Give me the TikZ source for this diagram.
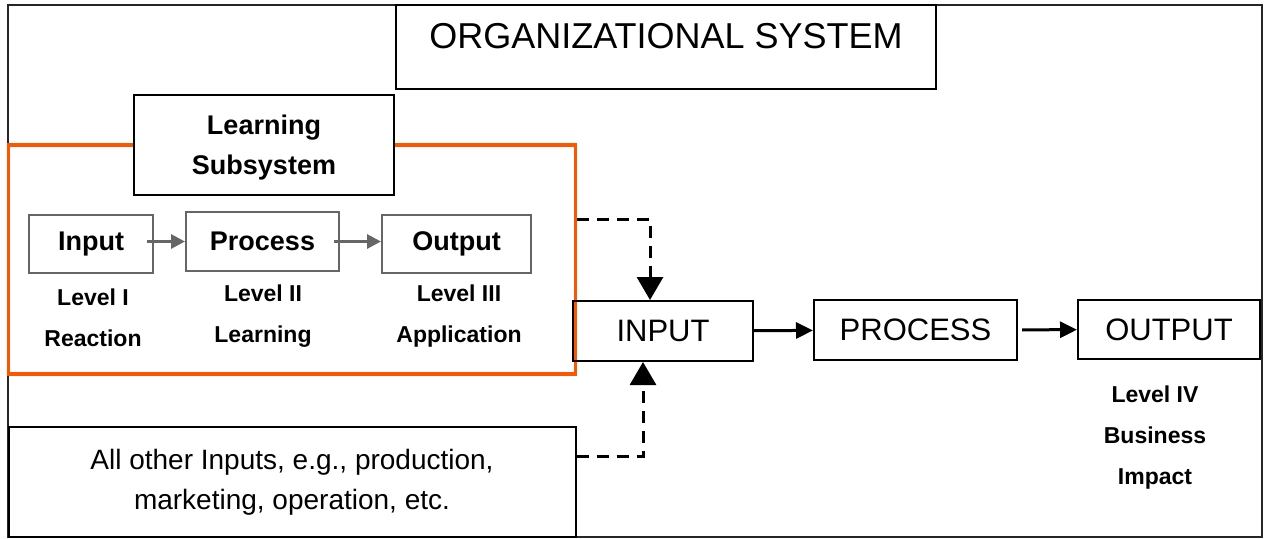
\documentclass[tikz,border=0pt]{standalone}
\usepackage{fontspec}
\setmainfont{Liberation Sans}
\usetikzlibrary{arrows.meta}
\definecolor{subsysorange}{RGB}{255,85,0}

\begin{document}
\begin{tikzpicture}[x=0.5pt,y=-0.5pt,
	box/.style={draw, line width=1pt, inner sep=0pt, font=\fontsize{15.5}{18}\selectfont},
	subbox/.style={draw=black!60, line width=1pt, inner sep=0pt, fill=white, font=\bfseries\fontsize{13.5}{16}\selectfont},
	lvl/.style={align=center, inner sep=0pt, font=\bfseries\fontsize{11.5}{20.5}\selectfont},
	flow/.style={-{Triangle[length=8.5pt,width=8pt]}, line width=1.5pt},
	subflow/.style={-{Triangle[length=7pt,width=7pt]}, line width=1.5pt, draw=black!60},
	feed/.style={-{Triangle[length=11.5pt,width=13pt]}, line width=1.5pt, dash pattern=on 6pt off 4pt}]
				\useasboundingbox (0,0) rectangle (1264,538);
				\draw [line width=1pt, draw=black!85] (8,5) rectangle (1262,537);

				% organizational system
				\node (title) [box, minimum width=270pt, minimum height=42pt, text height=13pt, text depth=12pt, font=\fontsize{18}{21}\selectfont] at (666,47) {ORGANIZATIONAL SYSTEM};

				% learning subsystem
				\node (learnsys) [draw=subsysorange, line width=1.75pt, minimum width=283.5pt, minimum height=114.5pt, inner sep=0pt] at (292,259.5) {};
				\node (subsys) [box, fill=white, align=center, font=\bfseries\fontsize{13.5}{20}\selectfont, minimum width=130pt, minimum height=50pt, text depth=0pt] at (264,144.5) {Learning\\Subsystem};

				\node (in1) [subbox, minimum width=62pt, minimum height=29pt] at (91,244) {Input};
				\node (pr1) [subbox, minimum width=76.5pt, minimum height=29.5pt] at (262.5,241.5) {Process};
				\node (out1) [subbox, minimum width=74.5pt, minimum height=29pt] at (456.5,244) {Output};

				\draw [subflow, shorten <=-3.5pt] (in1.east |- pr1) -- (pr1);
				\draw [subflow, shorten <=-3pt] (pr1) -- (out1.west |- pr1);

				\node (lvl1) [lvl] at (93,317.5) {Level I\\Reaction};
				\node (lvl2) [lvl] at (263,316) {Level II\\Learning};
				\node (lvl3) [lvl] at (459,316) {Level III\\Application};

				% organizational flow
				\node (inp) [box, minimum width=90pt, minimum height=30pt] at (663,331) {INPUT};
				\node (proc) [box, minimum width=101.5pt, minimum height=30pt] at (915.5,330) {PROCESS};
				\node (outp) [box, minimum width=91pt, minimum height=29.5pt] at (1169,329.5) {OUTPUT};

				\draw [flow] (inp) -- (proc);
				\draw [flow, shorten <=2pt] (proc) -- (outp);

				\node (lvl4) [lvl] at (1155,438) {Level IV\\Business\\Impact};

				% other inputs
				\node (other) [box, align=center, font=\fontsize{14}{20}\selectfont, minimum width=283.5pt, minimum height=55pt] at (292,482) {All other Inputs, e.g., production,\\marketing, operation, etc.};

				\coordinate (tap) at (650,219);
				\coordinate (btap) at (643,456);
				\draw [feed] (learnsys.east |- tap) -- (tap) -- (inp.north -| tap);
				\draw [feed] (other.east |- btap) -- (btap) -- (inp.south -| btap);
		\end{tikzpicture}
\end{document}
